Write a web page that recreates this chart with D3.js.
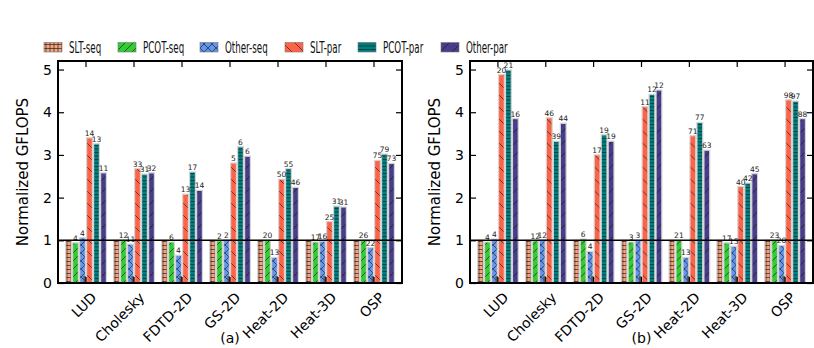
<!DOCTYPE html>
<html>
<head>
<meta charset="utf-8">
<script src="https://cdn.jsdelivr.net/npm/d3@7"></script>
<style>
  body { margin: 0; background: #fff; }
  text { font-family: "DejaVu Sans", sans-serif; }
</style>
</head>
<body>
<svg id="chart" width="814" height="348"></svg>
<script>

// categories, series, ticks
var benchmarks = ['LUD', 'Cholesky', 'FDTD-2D', 'GS-2D', 'Heat-2D', 'Heat-3D', 'OSP']
var seriesNames = ['SLT-seq', 'PCOT-seq', 'Other-seq', 'SLT-par', 'PCOT-par', 'Other-par']
var yTicks = [0, 1, 2, 3, 4, 5]

// panel (a) values (normalized GFLOPS)
var sltSeqA   = [1, 1, 1, 1, 1, 1, 1]
var pcotSeqA  = [0.94, 1.00, 0.96, 0.99, 1.00, 0.96, 1.00]
var otherSeqA = [1.06, 0.91, 0.65, 1.01, 0.60, 0.98, 0.83]
var sltParA   = [3.40, 2.68, 2.08, 2.81, 2.43, 1.44, 2.87]
var pcotParA  = [3.26, 2.55, 2.60, 3.19, 2.68, 1.80, 3.02]
var otherParA = [2.58, 2.58, 2.17, 2.97, 2.24, 1.78, 2.80]
var stubA     = [0.16, 0.16, 0.16, 0.16, 0.16, 0.16, 0.16]

// panel (a) bar labels
var pcotSeqLabA  = [4, 12, 6, 2, 20, 17, 26]
var otherSeqLabA = [4, 11, 4, 2, 13, 16, 22]
var sltParLabA   = [14, 33, 13, 5, 50, 25, 75]
var pcotParLabA  = [13, 31, 17, 6, 55, 31, 79]
var otherParLabA = [11, 32, 14, 6, 46, 31, 73]

// panel (b) values
var sltSeqB   = [1, 1, 1, 1, 1, 1, 1]
var pcotSeqB  = [0.96, 0.99, 1.03, 0.96, 1.00, 0.94, 1.00]
var otherSeqB = [1.03, 1.01, 0.74, 1.00, 0.60, 0.86, 0.88]
var sltParB   = [4.88, 3.87, 3.00, 4.13, 3.45, 2.26, 4.29]
var pcotParB  = [4.99, 3.32, 3.47, 4.42, 3.76, 2.34, 4.26]
var otherParB = [3.85, 3.74, 3.32, 4.52, 3.11, 2.56, 3.85]
var stubB     = [0.16, 0.16, 0.16, 0.16, 0.16, 0.16, 0.16]

// panel (b) bar labels
var pcotSeqLabB  = [4, 12, 6, 3, 21, 17, 23]
var otherSeqLabB = [4, 12, 4, 3, 13, 15, 20]
var sltParLabB   = [20, 46, 17, 11, 71, 40, 98]
var pcotParLabB  = [21, 39, 19, 12, 77, 42, 97]
var otherParLabB = [16, 44, 19, 12, 63, 45, 88]


var colors = ['#F7A27E', '#33CC33', '#6495ED', '#FF6347', '#008080', '#483D8B']

var svg = d3.select('#chart')
var defs = svg.append('defs')

// hatch patterns, one per series
function hatch(id, color, size, d) {
  var p = defs.append('pattern')
      .attr('id', id)
      .attr('patternUnits', 'userSpaceOnUse')
      .attr('width', size[0])
      .attr('height', size[1])
  p.append('rect').attr('width', size[0]).attr('height', size[1]).attr('fill', color)
  p.append('path').attr('d', d).attr('stroke', '#111').attr('stroke-width', 0.6).attr('fill', 'none')
}
hatch('h0', colors[0], [4, 4], 'M0,0.5H4 M2,0V4')
hatch('h1', colors[1], [8, 8], 'M0,8L8,0 M-2,2L2,-2 M6,10L10,6')
hatch('h2', colors[2], [8, 8], 'M0,8L8,0 M-2,2L2,-2 M6,10L10,6 M0,0L8,8 M-2,6L2,10 M6,-2L10,2')
hatch('h3', colors[3], [12, 12], 'M0,0L12,12 M-3,9L3,15 M9,-3L15,3')
hatch('h4', colors[4], [4, 3.5], 'M0,0.5H4')
hatch('h5', colors[5], [12, 12], 'M0,12L12,0 M-3,3L3,-3 M9,15L15,9')

// legend (text is drawn narrow, like in the original)
var legendX = [44, 118, 200, 285, 358, 441]
var legend = svg.append('g')
seriesNames.forEach(function(name, i) {
  legend.append('rect')
    .attr('x', legendX[i]).attr('y', 42.5)
    .attr('width', 18).attr('height', 9.5)
    .attr('fill', 'url(#h' + i + ')')
    .attr('stroke', '#777').attr('stroke-width', 0.6)
  legend.append('g')
    .attr('transform', 'translate(' + (legendX[i] + 25) + ',52.5) scale(0.58,1)')
    .append('text')
    .style('font-size', '15px')
    .attr('fill', '#111')
    .text(name)
})


function drawPanel(left, width, caption, values, labels, stub) {
  var top = 61, height = 222

  var x0 = d3.scaleBand()
      .domain(benchmarks)
      .range([0, width])
      .paddingInner(0.125)
      .paddingOuter(0.146)

  var x1 = d3.scaleBand()
      .domain(seriesNames)
      .range([0, x0.bandwidth()])

  var y = d3.scaleLinear()
      .domain([0, 5.2])
      .range([height, 0])

  var g = svg.append('g').attr('transform', 'translate(' + left + ',' + top + ')')

  var groups = g.selectAll('.grp')
      .data(benchmarks)
      .enter()
      .append('g')
      .attr('transform', (d) => 'translate(' + x0(d) + ',0)')

  // bars
  groups.each(function(b, bi) {
    var grp = d3.select(this)
    for (var s = 0; s < 6; s++) {
      if (s == 3) {
        // small dark stub under the middle of the group
        grp.append('rect')
          .attr('x', x1('SLT-par') - 2.5)
          .attr('y', y(stub[bi]))
          .attr('width', 3)
          .attr('height', height - y(stub[bi]))
          .attr('fill', '#555')
      }
      var v = values[s][bi]
      grp.append('rect')
        .attr('x', x1(seriesNames[s]) + 0.6)
        .attr('y', y(v))
        .attr('width', x1.bandwidth() - 1.2)
        .attr('height', height - y(v))
        .attr('fill', 'url(#h' + s + ')')
        .attr('stroke', '#d4d4d4')
        .attr('stroke-width', 1.2)
    }
  })

  // baseline at 1
  g.append('line')
    .attr('x1', 0).attr('x2', width)
    .attr('y1', y(1)).attr('y2', y(1))
    .attr('stroke', '#000').attr('stroke-width', 1.4)

  // bar labels
  groups.each(function(b, bi) {
    var grp = d3.select(this)
    for (var s = 1; s < 6; s++) {
      grp.append('text')
        .attr('x', x1(seriesNames[s]) + x1.bandwidth() / 2)
        .attr('y', y(values[s][bi]) - 2)
        .attr('text-anchor', 'middle')
        .style('font-size', '7.5px')
        .attr('fill', '#222')
        .text(labels[s - 1][bi])
    }
  })

  // axes, ticks pointing inward
  var yAxis = g.append('g')
      .call(d3.axisLeft(y).tickValues(yTicks).tickSize(-6).tickPadding(6).tickFormat(d3.format('d')))
  yAxis.selectAll('text').style('font-size', '14px').attr('fill', '#000')

  g.append('g')
    .attr('transform', 'translate(' + width + ',0)')
    .call(d3.axisRight(y).tickValues(yTicks).tickSize(-6).tickFormat(''))

  g.append('g')
    .call(d3.axisTop(x0).tickSize(-6).tickFormat(''))

  g.append('g')
    .attr('transform', 'translate(0,' + height + ')')
    .call(d3.axisBottom(x0).tickSize(-6).tickFormat(''))

  g.selectAll('.domain').remove()
  g.selectAll('.tick line').attr('stroke', '#000').attr('stroke-width', 1.2)

  // rotated category labels
  g.selectAll('.xlab')
    .data(benchmarks)
    .enter()
    .append('g')
    .attr('class', 'xlab')
    .attr('transform', (d) => 'translate(' + (x0(d) + x0.bandwidth() / 2 + 8) + ',' + (height + 12) + ') rotate(-45)')
    .append('text')
    .attr('text-anchor', 'end')
    .attr('dy', '0.35em')
    .style('font-size', '14px')
    .text((d) => d)

  // frame
  g.append('rect')
    .attr('width', width).attr('height', height)
    .attr('fill', 'none')
    .attr('stroke', '#000').attr('stroke-width', 2)

  g.append('text')
    .attr('transform', 'translate(-30,' + (height / 2) + ') rotate(-90)')
    .attr('text-anchor', 'middle')
    .style('font-size', '15px')
    .text('Normalized GFLOPS')

  g.append('text')
    .attr('x', width / 2)
    .attr('y', 282)
    .attr('text-anchor', 'middle')
    .style('font-size', '14px')
    .text(caption)
}

drawPanel(58, 344, '(a)',
  [sltSeqA, pcotSeqA, otherSeqA, sltParA, pcotParA, otherParA],
  [pcotSeqLabA, otherSeqLabA, sltParLabA, pcotParLabA, otherParLabA], stubA)

drawPanel(470, 343, '(b)',
  [sltSeqB, pcotSeqB, otherSeqB, sltParB, pcotParB, otherParB],
  [pcotSeqLabB, otherSeqLabB, sltParLabB, pcotParLabB, otherParLabB], stubB)

</script>
</body>
</html>
